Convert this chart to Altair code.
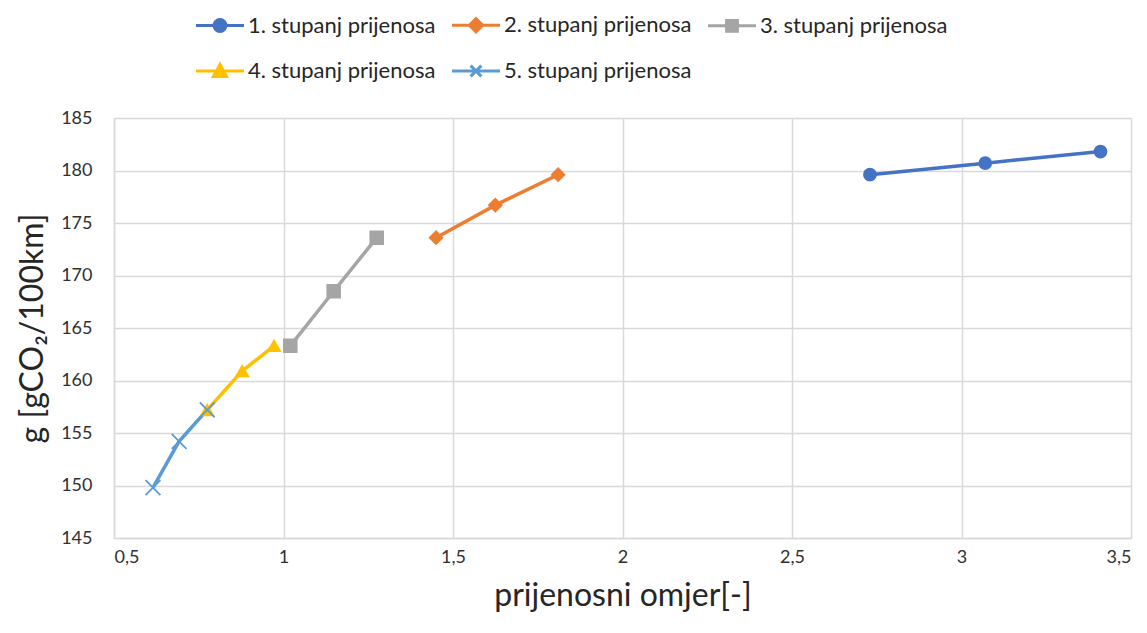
import altair as alt
import pandas as pd

series_names = ["1. stupanj prijenosa", "2. stupanj prijenosa", "3. stupanj prijenosa",
                "4. stupanj prijenosa", "5. stupanj prijenosa"]
colors = ["#4472C4", "#ED7D31", "#A5A5A5", "#FFC000", "#5B9BD5"]

g1_x = [2.73, 3.07, 3.41]
g1_y = [179.6, 180.7, 181.8]
g2_x = [1.45, 1.625, 1.81]
g2_y = [173.6, 176.7, 179.6]
g3_x = [1.02, 1.148, 1.275]
g3_y = [163.3, 168.5, 173.6]
g4_x = [0.972, 0.878, 0.775]
g4_y = [163.3, 160.9, 157.2]
g5_x = [0.615, 0.692, 0.775]
g5_y = [149.8, 154.2, 157.2]

xs = [g1_x, g2_x, g3_x, g4_x, g5_x]
ys = [g1_y, g2_y, g3_y, g4_y, g5_y]

rows = []
for name, sx, sy in zip(series_names, xs, ys):
    for i, (a, b) in enumerate(zip(sx, sy)):
        rows.append({"series": name, "x": a, "y": b, "order": i})
df = pd.DataFrame(rows)

point_shapes = ["circle", "diamond", "square", "triangle-up", "M-1,-1L1,1M-1,1L1,-1"]
point_sizes = [150, 170, 170, 160, 220]
legend_shapes = [
    "M-4,0H4M1,0A1,1 0 1,1 -1,0A1,1 0 1,1 1,0Z",
    "M-4,0H4M0,-1.1L1.1,0L0,1.1L-1.1,0Z",
    "M-4,0H4M-0.9,-0.9H0.9V0.9H-0.9Z",
    "M-4,0H4M0,-1.1L1.1,0.9L-1.1,0.9Z",
    "M-4,0H4M-0.9,-0.9L0.9,0.9M-0.9,0.9L0.9,-0.9",
]

FONT = "Lato"
xsc = alt.Scale(domain=[0.5, 3.5], nice=False, zero=False)
ysc = alt.Scale(domain=[145, 185], nice=False, zero=False)

x_enc = alt.X("x:Q", scale=xsc, axis=alt.Axis(
    values=[0.5, 1, 1.5, 2, 2.5, 3, 3.5], title="prijenosni omjer[-]",
    labelExpr="replace(toString(datum.value), '.', ',')"))
y_enc = alt.Y("y:Q", scale=ysc, axis=alt.Axis(
    values=[145, 150, 155, 160, 165, 170, 175, 180, 185], title="g [gCO₂/100km]"))

base = alt.Chart(df)

lines = base.mark_line(strokeWidth=3.5).encode(
    x=x_enc, y=y_enc,
    color=alt.Color("series:N", scale=alt.Scale(domain=series_names, range=colors), legend=None),
    detail="series:N",
    order="order:Q",
)

point_layers = []
for name, shp, sz, col in zip(series_names, point_shapes, point_sizes, colors):
    if shp.startswith("M"):
        m = base.transform_filter(alt.datum.series == name).mark_point(
            filled=False, shape=shp, size=sz, opacity=1, stroke=col, strokeWidth=1.8)
    else:
        m = base.transform_filter(alt.datum.series == name).mark_point(
            filled=True, shape=shp, size=sz, opacity=1, fill=col, stroke=col, strokeWidth=1.5)
    point_layers.append(m.encode(x=x_enc, y=y_enc))

legend_layer = base.transform_filter("false").mark_point(filled=True, opacity=1, strokeWidth=2.5).encode(
    x=x_enc, y=y_enc,
    color=alt.Color("series:N", scale=alt.Scale(domain=series_names, range=colors),
                    legend=alt.Legend(title=None, orient="none", legendX=95, legendY=-104,
                                      columns=3, direction="horizontal",
                                      symbolSize=144, labelOffset=17, columnPadding=10,
                                      rowPadding=20, labelFontSize=22, labelFont=FONT,
                                      labelColor="#262626", symbolStrokeWidth=3,
                                      symbolOpacity=1, labelLimit=400)),
    stroke=alt.Stroke("series:N", scale=alt.Scale(domain=series_names, range=colors)),
    shape=alt.Shape("series:N", scale=alt.Scale(domain=series_names, range=legend_shapes)),
)

chart = alt.layer(lines, *point_layers, legend_layer).resolve_scale(
    color="independent", stroke="independent", shape="independent"
).properties(
    width=1017, height=420,
    autosize=alt.AutoSizeParams(type="none"),
    padding={"left": 106, "top": 110, "right": 8, "bottom": 87},
).configure_view(stroke=None).configure_axis(
    labelFont=FONT, titleFont=FONT, labelFontSize=18, labelColor="#303030",
    titleColor="#262626", titleFontWeight="normal", titleFontSize=32,
    gridColor="#D9D9D9", gridWidth=1.5, domainColor="#D9D9D9", domainWidth=1.5,
    ticks=False,
).configure_axisX(labelPadding=10, titlePadding=14, domain=True
).configure_axisY(labelPadding=22, titlePadding=11, domain=True)

chart.save("out.html", embed_options={"renderer": "svg", "actions": False})
